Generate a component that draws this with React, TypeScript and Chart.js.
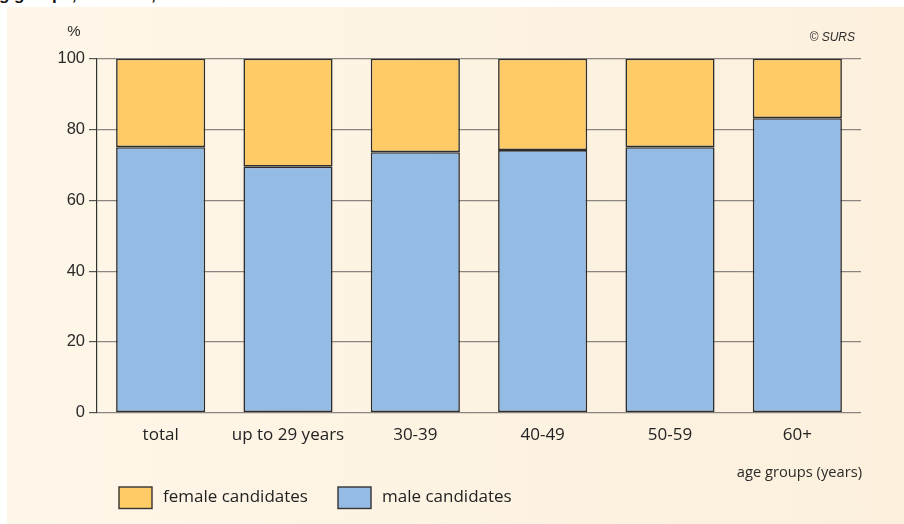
import React, { useEffect, useRef } from "react";
import { Chart, registerables } from "chart.js";

Chart.register(...registerables);

const categories = ["total", "up to 29 years", "30-39", "40-49", "50-59", "60+"];
const maleValues = [75.0, 69.5, 73.6, 74.2, 75.0, 83.2];
const femaleValues = [25.0, 30.5, 26.4, 25.8, 25.0, 16.8];
const seriesLabels = ["male candidates", "female candidates"];
const seriesColors = ["#93bbe3", "#fecb67"];
const yMin = 0;
const yMax = 100;
const yStep = 20;
const yUnit = "%";
const xTitle = "age groups (years)";
const sourceText = "© SURS";
const titleText = "g groups, Slovenia, 2014";

const extrasPlugin = {
  id: "extras",
  afterDraw(chart: any) {
    const ctx = chart.ctx as CanvasRenderingContext2D;
    ctx.save();
    ctx.fillStyle = "#2a2a2a";
    ctx.font = "15px 'Liberation Sans', Arial, sans-serif";
    ctx.textAlign = "center";
    ctx.textBaseline = "middle";
    ctx.fillText(yUnit, 74, 32);
    ctx.font = "italic 12px 'Liberation Sans', Arial, sans-serif";
    ctx.textAlign = "right";
    ctx.fillText(sourceText, 855, 38);
    ctx.font = "14.7px 'Open Sans', sans-serif";
    ctx.textAlign = "right";
    ctx.fillText(xTitle, 862, 473);
    const ds = chart.data.datasets;
    const positions = [338, 119];
    for (let i = ds.length - 1; i >= 0; i--) {
      const x = positions[i];
      ctx.fillStyle = ds[i].backgroundColor;
      ctx.fillRect(x, 487, 33, 21.5);
      ctx.strokeStyle = "#333";
      ctx.lineWidth = 1.4;
      ctx.strokeRect(x, 487, 33, 21.5);
      ctx.fillStyle = "#222";
      ctx.font = "17px 'Open Sans', sans-serif";
      ctx.textAlign = "left";
      ctx.textBaseline = "middle";
      ctx.fillText(ds[i].label, x + 44, 497);
    }
    ctx.restore();
  },
};

export default function App() {
  const ref = useRef<HTMLCanvasElement | null>(null);
  useEffect(() => {
    if (!ref.current) return;
    const chart = new Chart(ref.current, {
      type: "bar",
      data: {
        labels: categories,
        datasets: [
          {
            label: seriesLabels[0],
            data: maleValues,
            backgroundColor: seriesColors[0],
            borderColor: "#2d2d2d",
            borderWidth: 1.6,
            borderSkipped: false,
            barPercentage: 0.7,
            categoryPercentage: 1,
          },
          {
            label: seriesLabels[1],
            data: femaleValues,
            backgroundColor: seriesColors[1],
            borderColor: "#2d2d2d",
            borderWidth: 1.6,
            borderSkipped: false,
            barPercentage: 0.7,
            categoryPercentage: 1,
          },
        ],
      },
      options: {
        responsive: false,
        animation: false,
        devicePixelRatio: 1,
        layout: { padding: { left: 0, top: 58.7, right: 43, bottom: 0 } },
        plugins: { legend: { display: false }, tooltip: { enabled: false }, title: { display: false } },
        scales: {
          x: {
            stacked: true,
            grid: { display: false, drawTicks: false },
            border: { display: false },
            ticks: {
              color: "#222",
              font: { family: "'Open Sans', sans-serif", size: 17 },
              padding: 12,
              maxRotation: 0,
              autoSkip: false,
            },
            afterFit: (s: any) => {
              s.height = 111.3;
            },
          },
          y: {
            stacked: true,
            min: yMin,
            max: yMax,
            ticks: {
              stepSize: yStep,
              color: "#2a2a2a",
              font: { family: "'Liberation Sans', Arial, sans-serif", size: 16.5 },
              padding: 4,
            },
            grid: {
              color: "#8a8580",
              lineWidth: 1.2,
              tickLength: 8,
              drawTicks: true,
              tickColor: "#555",
            },
            border: { display: true, color: "#333", width: 1.2 },
            afterFit: (s: any) => {
              s.width = 97;
            },
          },
        },
      },
      plugins: [extrasPlugin],
    });
    return () => chart.destroy();
  }, []);

  return (
    <div style={{ position: "absolute", left: 0, top: 0, width: 904, height: 524, background: "#fff", overflow: "hidden" }}>
      <div style={{ position: "absolute", left: 0, top: 0, width: 904, height: 7, overflow: "hidden" }}>
        <div
          style={{
            position: "absolute",
            left: -1,
            top: -15,
            whiteSpace: "nowrap",
            font: "bold 17px 'Liberation Sans', Arial, sans-serif",
            color: "#111",
          }}
        >
          {titleText}
        </div>
      </div>
      <div
        style={{
          position: "absolute",
          left: 7,
          top: 7,
          width: 897,
          height: 517,
          background: "linear-gradient(to right, #fef6e8, #fcf0dd)",
        }}
      />
      <canvas ref={ref} width={904} height={524} style={{ position: "absolute", left: 0, top: 0, width: 904, height: 524 }} />
    </div>
  );
}
